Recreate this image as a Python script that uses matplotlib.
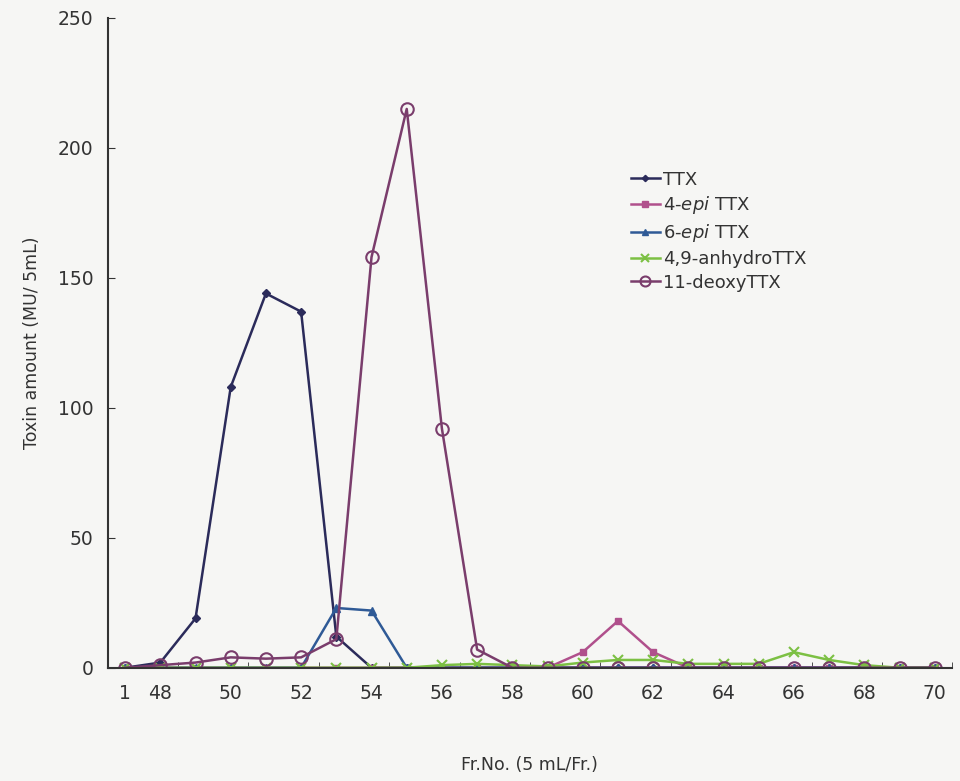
import numpy as np
import matplotlib.pyplot as plt

# fraction numbers (first category is fraction 1, then 48..70)
fractions = ['1'] + [str(n) for n in range(48, 71)]

ttx =        [0, 2, 19, 108, 144, 137, 12, 0, 0, 0, 0, 0, 0, 0, 0, 0, 0, 0, 0, 0, 0, 0, 0, 0]
epi4_ttx =   [0, 0, 0, 0, 0, 0, 0, 0, 0, 0, 0, 0, 0, 6, 18, 6, 0, 0, 0, 0, 0, 0, 0, 0]
epi6_ttx =   [0, 0, 0, 0, 0, 0, 23, 22, 0, 0, 0, 0, 0, 0, 0, 0, 0, 0, 0, 0, 0, 0, 0, 0]
anhydro =    [0, 0, 0, 0, 0, 0, 0, 0, 0, 1, 1.5, 1, 0.5, 2, 3, 3, 1.5, 1.5, 1.5, 6, 3, 1, 0, 0]
deoxy11 =    [0, 1, 2, 4, 3.5, 4, 11, 158, 215, 92, 7, 0, 0, 0, 0, 0, 0, 0, 0, 0, 0, 0, 0, 0]

labels = ['TTX', '4-$\\it{epi}$ TTX', '6-$\\it{epi}$ TTX', '4,9-anhydroTTX', '11-deoxyTTX']

x = np.arange(len(fractions))

fig = plt.figure(figsize=(9.6, 7.81), dpi=100)
fig.patch.set_facecolor('#f6f6f4')
ax = fig.add_axes([0.112, 0.145, 0.88, 0.832])
ax.set_facecolor('#f6f6f4')

ax.plot(x, ttx, color='#2b2b5a', marker='D', ms=4, lw=1.8, label=labels[0])
ax.plot(x, epi4_ttx, color='#b0508c', marker='s', ms=5, lw=1.8, label=labels[1])
ax.plot(x, epi6_ttx, color='#2f5a96', marker='^', ms=6, lw=1.8, label=labels[2])
ax.plot(x, anhydro, color='#7cc043', marker='x', ms=7, mew=1.5, lw=1.8, label=labels[3])
ax.plot(x, deoxy11, color='#7a3d6c', marker='o', ms=9, mfc='none', mew=1.5, lw=1.8, label=labels[4])

ax.set_xlim(-0.5, len(fractions) - 0.5)
ax.set_ylim(0, 250)
ax.set_yticks([0, 50, 100, 150, 200, 250])

# labels at 1, 48, 50, 52 ... 70
lab_idx = [0, 1] + list(range(3, len(fractions), 2))
ax.set_xticks(lab_idx)
ax.set_xticklabels([fractions[i] for i in lab_idx])
ax.set_xticks(np.arange(1.5, len(fractions), 2), minor=True)
ax.tick_params(axis='x', which='major', length=0, pad=12, labelsize=13.5, colors='#333333')
ax.tick_params(axis='x', which='minor', direction='in', length=4, color='#333333')
ax.tick_params(axis='y', direction='in', length=5, pad=10, labelsize=13.5, colors='#333333')

for s in ['top', 'right']:
    ax.spines[s].set_visible(False)
for s in ['left', 'bottom']:
    ax.spines[s].set_color('#333333')
    ax.spines[s].set_linewidth(1.5)

ax.set_ylabel('Toxin amount (MU/ 5mL)', fontsize=12.5, color='#333333', labelpad=12)
ax.set_xlabel('Fr.No. (5 mL/Fr.)', fontsize=12.5, color='#333333', labelpad=38)

leg = ax.legend(loc='upper left', bbox_to_anchor=(0.6, 0.79), frameon=False, fontsize=13,
                handlelength=1.6, handletextpad=0.2, labelspacing=0.32, markerscale=0.8)
for t in leg.get_texts():
    t.set_color('#333333')

fig.savefig('out.png', dpi=100, facecolor=fig.get_facecolor())
